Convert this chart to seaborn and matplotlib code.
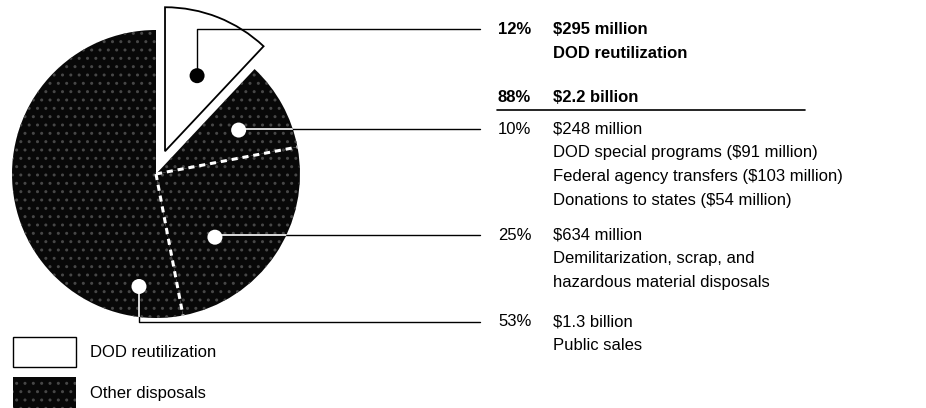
import numpy as np
import matplotlib.pyplot as plt
from matplotlib.patches import Patch, Circle
import seaborn as sns

# slice shares (percent), clockwise from 12 o'clock
shares = [12, 10, 25, 53]
pct_labels = ['12%', '10%', '25%', '53%']
amount_labels = ['$295 million', '$248 million', '$634 million', '$1.3 billion']
detail_lines = [
    ['DOD reutilization'],
    ['DOD special programs ($91 million)',
     'Federal agency transfers ($103 million)',
     'Donations to states ($54 million)'],
    ['Demilitarization, scrap, and', 'hazardous material disposals'],
    ['Public sales'],
]
total_pct = '88%'
total_amount = '$2.2 billion'
legend_labels = ['DOD reutilization', 'Other disposals']

sns.set_theme(style='white')
plt.rcParams['font.family'] = ['Liberation Sans', 'DejaVu Sans']
plt.rcParams['text.color'] = 'black'

W, H = 926, 408
fig = plt.figure(figsize=(W / 100, H / 100), dpi=100)
ax = fig.add_axes([0, 0, 1, 1])

def Y(y):
    # pixel row (from top) -> data y
    return H - y

cx, cy, R = 156, Y(174), 144
DARK = '#080808'
STIPPLE = '#474747'

wedges, _ = ax.pie(shares, startangle=90, counterclock=False,
                   center=(cx, cy), radius=R, explode=[0.17 * R, 0, 0, 0],
                   colors=['white', DARK, DARK, DARK],
                   wedgeprops=dict(linewidth=0), frame=True)
wedges[0].set_edgecolor('black')
wedges[0].set_linewidth(1.3)
for w in wedges[1:]:
    w.set_edgecolor(STIPPLE)
    w.set_hatch('..')
    w.set_linewidth(0)

# dashed white dividers between the dark slices
for w in wedges[2:]:
    t = np.deg2rad(w.theta2)
    ax.plot([cx, cx + R * np.cos(t)], [cy, cy + R * np.sin(t)],
            color='white', lw=2.2, ls=(0, (2.0, 1.6)), zorder=3)

# marker dots (angle, fraction of radius from wedge apex)
dot_pos = [(67, 0.57), (28, 0.65), (-47, 0.60), (-98.6, 0.79)]
row_y = [29, 129, 235, 322]
PCT_X, AMT_X, LEAD_X = 498, 553, 480
LINE = 24

clip = Circle((cx, cy), R, transform=ax.transData)
for i, w in enumerate(wedges):
    ang, frac = dot_pos[i]
    a = np.deg2rad(ang)
    ox, oy = w.center
    dx, dy = ox + frac * R * np.cos(a), oy + frac * R * np.sin(a)
    ly = Y(row_y[i])
    xs, ys = [dx, dx, LEAD_X], [dy, ly, ly]
    ax.plot(xs, ys, color='black', lw=1.0, zorder=4, solid_joinstyle='round')
    if i > 0:
        seg, = ax.plot(xs, ys, color='white', lw=1.2, zorder=5)
        seg.set_clip_path(clip)
    ax.add_patch(Circle((dx, dy), 7.5, color='black' if i == 0 else 'white',
                        zorder=6, lw=0))
    weight = 'bold' if i == 0 else 'normal'
    ax.text(PCT_X, ly, pct_labels[i], fontsize=12, fontweight=weight,
            va='center', ha='left')
    ax.text(AMT_X, ly, amount_labels[i], fontsize=12, fontweight=weight,
            va='center', ha='left')
    for k, line in enumerate(detail_lines[i]):
        ax.text(AMT_X, ly - (k + 1) * LINE, line, fontsize=12,
                fontweight=weight, va='center', ha='left')

# subtotal for other disposals
ax.text(PCT_X, Y(97), total_pct, fontsize=12, fontweight='bold', va='center')
ax.text(AMT_X, Y(97), total_amount, fontsize=12, fontweight='bold', va='center')
ax.plot([PCT_X - 1, 805], [Y(110), Y(110)], color='black', lw=1.2)

handles = [Patch(facecolor='white', edgecolor='black', lw=1.0),
           Patch(facecolor=DARK, edgecolor=STIPPLE, hatch='..', lw=0)]
ax.legend(handles, legend_labels, loc='upper left', frameon=False,
          bbox_to_anchor=(13 / W, 1 - 337 / H), bbox_transform=fig.transFigure,
          fontsize=12, handlelength=3.8, handleheight=2.4,
          handletextpad=0.8, labelspacing=0.62, borderpad=0, borderaxespad=0)

ax.set_xlim(0, W)
ax.set_ylim(0, H)
ax.axis('off')
fig.savefig('out.png', dpi=100)
